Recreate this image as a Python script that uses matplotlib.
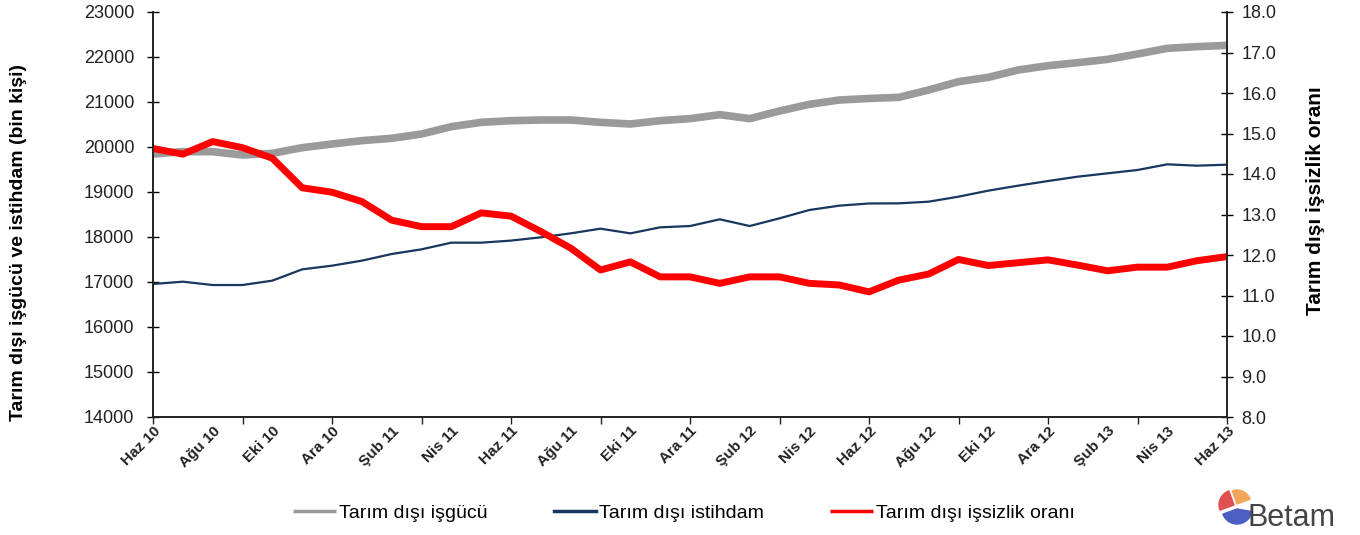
import numpy as np
import matplotlib
matplotlib.use("Agg")
import matplotlib.pyplot as plt
from matplotlib.patches import Wedge

plt.rcParams['font.family'] = ['Liberation Sans', 'DejaVu Sans']

# monthly data, Haziran 2010 - Haziran 2013
months = ['Haz 10', 'Tem 10', 'Ağu 10', 'Eyl 10', 'Eki 10', 'Kas 10', 'Ara 10', 'Oca 11',
          'Şub 11', 'Mar 11', 'Nis 11', 'May 11', 'Haz 11', 'Tem 11', 'Ağu 11', 'Eyl 11',
          'Eki 11', 'Kas 11', 'Ara 11', 'Oca 12', 'Şub 12', 'Mar 12', 'Nis 12', 'May 12',
          'Haz 12', 'Tem 12', 'Ağu 12', 'Eyl 12', 'Eki 12', 'Kas 12', 'Ara 12', 'Oca 13',
          'Şub 13', 'Mar 13', 'Nis 13', 'May 13', 'Haz 13']

isgucu = [19844, 19896, 19896, 19822, 19859, 19985, 20067, 20141, 20193, 20289,
          20452, 20548, 20585, 20600, 20600, 20548, 20511, 20585, 20630, 20719,
          20630, 20800, 20948, 21044, 21078, 21104, 21267, 21452, 21548, 21711,
          21807, 21874, 21948, 22067, 22193, 22230, 22259]

istihdam = [16956, 17007, 16933, 16933, 17030, 17281, 17363, 17474, 17622, 17726,
            17874, 17874, 17920, 17993, 18081, 18185, 18081, 18215, 18244, 18393,
            18244, 18415, 18600, 18696, 18745, 18748, 18785, 18896, 19030, 19141,
            19244, 19341, 19415, 19489, 19615, 19585, 19607]

issizlik = [14.63, 14.49, 14.80, 14.65, 14.39, 13.66, 13.55, 13.32, 12.86, 12.70,
            12.70, 13.04, 12.96, 12.58, 12.17, 11.63, 11.83, 11.46, 11.46, 11.30,
            11.46, 11.46, 11.30, 11.26, 11.09, 11.38, 11.53, 11.89, 11.74, 11.81,
            11.88, 11.75, 11.61, 11.70, 11.70, 11.86, 11.96]

x = np.arange(len(months))

fig = plt.figure(figsize=(13.6, 5.35), dpi=100)
ax = fig.add_axes([153 / 1360, 1 - 417 / 535, (1227 - 153) / 1360, (417 - 12) / 535])
ax2 = ax.twinx()

l1, = ax.plot(x, isgucu, color='#9a9a9a', lw=5.5, solid_capstyle='butt', label='Tarım dışı işgücü')
l2, = ax.plot(x, istihdam, color='#17375e', lw=1.6, label='Tarım dışı istihdam')
l3, = ax2.plot(x, issizlik, color='#ff0000', lw=5, solid_capstyle='butt', label='Tarım dışı işsizlik oranı')

ax.set_xlim(0, len(months) - 1)
ax.set_ylim(14000, 23000)
ax.set_yticks(np.arange(14000, 23001, 1000))
ax2.set_ylim(8, 18)
ax2.set_yticks(np.arange(8, 18.01, 1))
ax2.set_yticklabels(['%.1f' % v for v in np.arange(8, 18.01, 1)])

# labels every 2 months, tick marks every 3 months
ax.xaxis.remove_overlapping_locs = False
ax.set_xticks(x[::2])
ax.set_xticklabels(months[::2], rotation=45, ha='right', va='top',
                   rotation_mode='anchor', fontsize=11, fontweight='bold', color='#222222')
ax.set_xticks(x[::3], minor=True)
ax.tick_params(axis='x', which='major', length=0, pad=5)
ax.tick_params(axis='x', which='minor', direction='out', length=5, width=1, color='#222222')

ax.tick_params(axis='y', direction='inout', length=9, width=1, labelsize=13, labelcolor='#222222', pad=9)
ax2.tick_params(axis='y', direction='inout', length=9, width=1, labelsize=13, labelcolor='#222222', pad=6)

for a in (ax, ax2):
    a.spines['top'].set_visible(False)
    for s in ('left', 'right', 'bottom'):
        a.spines[s].set_color('#222222')
        a.spines[s].set_linewidth(1.2)

ax.set_ylabel('Tarım dışı işgücü ve istihdam (bin kişi)', fontsize=14, fontweight='bold')
ax2.set_ylabel('Tarım dışı işsizlik oranı', fontsize=15, fontweight='bold')
ax.yaxis.set_label_coords(-0.117, 0.43)
ax2.yaxis.set_label_coords(1.074, 0.535)

leg = fig.legend([l1, l2, l3], [l1.get_label(), l2.get_label(), l3.get_label()],
                 loc='center', bbox_to_anchor=(0.503, 1 - 513 / 535), ncol=3, frameon=False,
                 fontsize=14, handlelength=2.2, handletextpad=0.15, columnspacing=3.4)
for h in leg.get_lines():
    h.set_linewidth(2.5)

# Betam logo
lax = fig.add_axes([1212 / 1360, 0, 145 / 1360, 50 / 535])
lax.set_xlim(0, 145)
lax.set_ylim(0, 50)
lax.axis('off')
lax.add_patch(Wedge((22, 30), 15, 110, 200, color='#e05050'))
lax.add_patch(Wedge((25, 31), 14, 20, 110, color='#f2a65a'))
lax.add_patch(Wedge((25, 26), 15, 200, 350, color='#4a5fc1'))
lax.text(36, 2, 'Betam', fontsize=22, color='#444444', ha='left', va='bottom')

fig.savefig('out.png', dpi=100)
